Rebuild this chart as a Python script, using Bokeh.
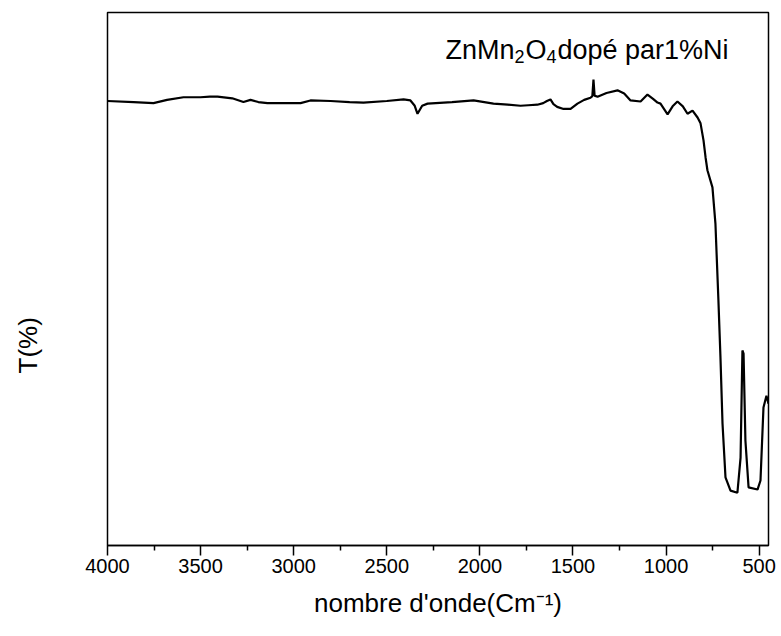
from bokeh.plotting import figure
from bokeh.models import Range1d, Label, ColumnDataSource, FixedTicker, Title
from bokeh.embed import file_html
from bokeh.resources import INLINE

# FTIR spectrum: wavenumber (cm-1) and transmittance (arb.)
wavenumber = [4000, 3860, 3753, 3680, 3592, 3501, 3450, 3409, 3330, 3270, 3232, 3190, 3141, 3050,
              2963, 2910, 2802, 2700, 2625, 2500, 2410, 2373, 2350, 2335, 2310, 2281, 2150,
              2034, 1927, 1850, 1782, 1740, 1691, 1660, 1640, 1621, 1605, 1585, 1551, 1513,
              1476, 1440, 1406, 1396, 1390, 1384, 1368, 1320, 1261, 1225, 1191, 1137, 1100,
              1070, 1046, 1030, 992, 965, 939, 910, 885, 858, 831, 815, 799, 788, 778, 751,
              735, 719, 708, 697, 681, 654, 617, 600, 590, 584, 574, 557, 509, 493, 477, 461, 450]
transmittance = [83.4, 83.2, 83.0, 83.6, 84.1, 84.1, 84.2, 84.2, 83.9, 83.2, 83.6, 83.2, 83.0, 83.0,
                 83.0, 83.5, 83.4, 83.2, 83.1, 83.4, 83.7, 83.5, 82.5, 81.0, 82.5, 82.9, 83.2,
                 83.5, 82.9, 82.7, 82.5, 82.6, 82.7, 83.0, 83.4, 83.7, 82.8, 82.3, 81.9, 81.9,
                 82.9, 83.6, 84.0, 84.3, 87.4, 84.4, 84.2, 84.9, 85.4, 84.8, 83.5, 83.3, 84.6,
                 83.8, 83.1, 82.9, 80.9, 82.4, 83.3, 82.4, 81.0, 81.6, 80.3, 79.2, 76.0, 72.8, 70.4, 67.2,
                 60.4, 46.0, 35.3, 22.9, 12.8, 10.3, 9.9, 16.5, 36.6, 36.0, 19.7, 10.9, 10.5, 12.2, 25.9, 28.1, 26.6]

x_ticks = [4000, 3500, 3000, 2500, 2000, 1500, 1000, 500]
x_minor = [3750, 3250, 2750, 2250, 1750, 1250, 750]

FONT = "Liberation Sans"

src = ColumnDataSource(dict(x=wavenumber, y=transmittance))

p = figure(width=781, height=636, output_backend="svg", toolbar_location=None,
           x_range=Range1d(4000, 450), y_range=Range1d(0, 100),
           min_border_left=107, min_border_right=13, min_border_top=12, min_border_bottom=91)

p.line("x", "y", source=src, line_color="black", line_width=2.2)

p.grid.visible = False
p.outline_line_color = "black"
p.outline_line_width = 1.5
p.background_fill_color = "white"
p.border_fill_color = "white"

xa = p.xaxis[0]
xa.ticker = FixedTicker(ticks=x_ticks, minor_ticks=x_minor)
xa.major_tick_out = 10
xa.major_tick_in = 0
xa.minor_tick_out = 5
xa.minor_tick_in = 0
xa.axis_line_width = 1.5
xa.major_tick_line_width = 1.5
xa.minor_tick_line_width = 1.5
xa.major_label_text_font = FONT
xa.major_label_text_font_size = "20px"
xa.major_label_text_color = "black"
xa.major_label_standoff = 3
xa.axis_label = "nombre d'onde(Cm\u207b\u00b9)"
xa.axis_label_text_font = FONT
xa.axis_label_text_font_size = "26px"
xa.axis_label_text_font_style = "normal"
xa.axis_label_text_color = "black"
xa.axis_label_standoff = 12

p.yaxis.visible = False

p.add_layout(Title(text="T(%)\n\u00a0\n\u00a0", align="left", offset=172, standoff=10,
                   text_font=FONT, text_font_size="26px", text_font_style="normal",
                   text_color="black"), "left")

# annotation pieces (anchor + pixel offsets)
ann_x = 2185
ann_y = 93.0
pieces = [("ZnMn", 0, 0, "27px"), ("2", 69, -7, "18px"), ("O", 80, 0, "27px"),
          ("4", 101, -7, "18px"), ("dopé par1%Ni", 112, 0, "27px")]
for txt, dx, dy, fs in pieces:
    p.add_layout(Label(x=ann_x, y=ann_y, x_offset=dx, y_offset=dy, text=txt,
                       text_align="left", text_baseline="alphabetic",
                       text_font=FONT, text_font_size=fs, text_color="black"))

open("out.html", "w").write(file_html(p, INLINE))
